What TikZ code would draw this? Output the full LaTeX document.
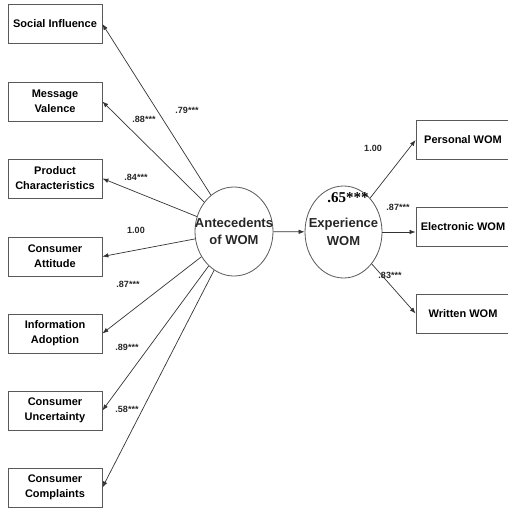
\documentclass[tikz,border=0pt]{standalone}
\usepackage{fontspec}
\setmainfont{Liberation Sans}
\newfontfamily\timesbold{Liberation Serif}
\usetikzlibrary{shapes.geometric,arrows.meta}

\begin{document}
\begin{tikzpicture}[x=1pt,y=-1pt,
    box/.style={draw=black!65,line width=0.8pt,minimum width=94pt,minimum height=39pt,inner sep=1pt,align=center,font=\fontsize{11}{15}\selectfont\bfseries},
    latent/.style={ellipse,draw=black!65,line width=0.8pt,inner sep=0pt},
    latenttext/.style={align=center,font=\fontsize{13}{17.5}\selectfont\bfseries,text=black!85},
    coef/.style={font=\fontsize{9}{10}\selectfont\bfseries,text=black!85},
    link/.style={-{Latex[length=6pt,width=4.5pt]},draw=black!80,line width=0.7pt}]
      \useasboundingbox (0,0) rectangle (508,508);
      \clip (0,0) rectangle (508,508);
      % indicators of the antecedents
      \node[box] (soc) at (55,24) {Social Influence};
      \node[box] (msg) at (55,101.5) {Message\\Valence};
      \node[box] (prod) at (55,178.5) {Product\\Characteristics};
      \node[box] (att) at (55,256.5) {Consumer\\Attitude};
      \node[box] (info) at (55,333.5) {Information\\Adoption};
      \node[box] (unc) at (55,410.5) {Consumer\\Uncertainty};
      \node[box] (compl) at (55,487.5) {Consumer\\Complaints};
      % the two latent factors
      \node[latent,minimum width=78pt,minimum height=89pt,
        label={[latenttext]center:Antecedents\\of WOM}] (ant) at (234,231.5) {};
      \node[latent,minimum width=77pt,minimum height=92pt,
        label={[latenttext]center:Experience\\WOM}] (exp) at (343.5,232) {};
      % indicators of experience
      \node[box] (pers) at (463,140) {Personal WOM};
      \node[box] (elec) at (463,227) {Electronic WOM};
      \node[box] (writ) at (463,313.5) {Written WOM};

      \draw[link] (ant) -- (soc.east);
      \draw[link] (ant) -- (msg.east);
      \draw[link] (ant) -- (prod.east);
      \draw[link] (ant) -- (att.east);
      \draw[link] (ant) -- (info.east);
      \draw[link] (ant) -- (unc.east);
      \draw[link] (ant) -- (compl.east);
      \draw[link] (ant) -- (exp);
      \draw[link] (exp) -- (pers.west);
      \draw[link] (exp.east) -- (exp.east -| elec.west);
      \draw[link] (exp) -- (writ.west);

      \node[coef] (l1) at (187,110) {.79***};
      \node[coef] (l2) at (144,119) {.88***};
      \node[coef] (l3) at (136,177) {.84***};
      \node[coef] (l4) at (136,230) {1.00};
      \node[coef] (l5) at (128,284) {.87***};
      \node[coef] (l6) at (127,347) {.89***};
      \node[coef] (l7) at (127,409) {.58***};
      \node[coef] (r1) at (373,148) {1.00};
      \node[coef] (r2) at (398,207) {.87***};
      \node[coef] (r3) at (390,275) {.83***};
      \node[font=\fontsize{15}{16}\selectfont\timesbold\bfseries] (beta) at (348,198) {.65***};
\end{tikzpicture}
\end{document}
